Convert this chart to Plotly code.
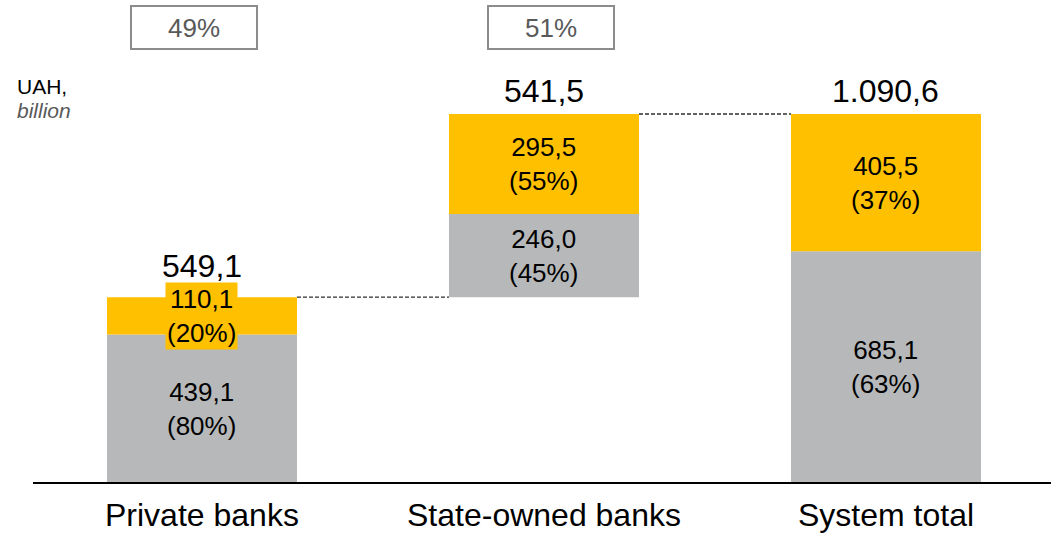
import plotly.graph_objects as go

# Banking system figures, UAH billion
categories = ["Private banks", "State-owned banks", "System total"]
lower_part = [439.1, 246.0, 685.1]      # grey segment
upper_part = [110.1, 295.5, 405.5]      # yellow segment
totals = [549.1, 541.5, 1090.6]          # stated totals
share_labels = ["49%", "51%"]            # boxed shares above the first two bars

GREY = "#B7B8BA"
YELLOW = "#FFC000"
FONT = "Liberation Sans, Arial, sans-serif"

W, H = 1051, 541


def fmt(v):
    s = f"{v:,.1f}"
    return s.replace(",", "X").replace(".", ",").replace("X", ".")


# State-owned bar floats on top of the private total (waterfall)
bases = [0.0, totals[0], 0.0]
upper_bases = [b + lo for b, lo in zip(bases, lower_part)]
bar_tops = [b + t for b, t in zip(bases, totals)]

# axis ranges chosen so the chart fills the canvas with no margins
x_range = [-0.5906, 2.4825]
y_range = [-171.4, 1427.5]
bar_w = 0.5556

fig = go.Figure()
x = list(range(len(categories)))
fig.add_trace(go.Bar(x=x, y=lower_part, base=bases, width=bar_w,
                     marker=dict(color=GREY, line=dict(width=0)), hoverinfo="skip"))
fig.add_trace(go.Bar(x=x, y=upper_part, base=upper_bases, width=bar_w,
                     marker=dict(color=YELLOW, line=dict(width=0)), hoverinfo="skip"))

annotations = []
shapes = []

for i, cat in enumerate(categories):
    tot = totals[i]
    lo, up = lower_part[i], upper_part[i]
    # segment labels
    annotations.append(dict(x=i, y=bases[i] + lo / 2, xref="x", yref="y",
                            text=f"{fmt(lo)}<br>({round(lo / tot * 100)}%)",
                            showarrow=False, font=dict(family=FONT, size=26, color="black")))
    annotations.append(dict(x=i, y=upper_bases[i] + up / 2, xref="x", yref="y",
                            text=f"{fmt(up)}<br>({round(up / tot * 100)}%)",
                            showarrow=False, bgcolor=YELLOW if i == 0 else None,
                            borderpad=1,
                            font=dict(family=FONT, size=26, color="black")))
    # total above the bar
    annotations.append(dict(x=i, y=bar_tops[i], xref="x", yref="y",
                            text=fmt(tot), showarrow=False, yanchor="middle",
                            yshift=31 if i == 0 else 23,
                            font=dict(family=FONT, size=32, color="black")))
    # category label below the axis
    annotations.append(dict(x=i, y=-94, xref="x", yref="y", text=cat, showarrow=False,
                            font=dict(family=FONT, size=32, color="black")))

# dashed connectors between bars
for i in range(len(categories) - 1):
    level = max(bar_tops[i], bar_tops[i + 1]) if i == 1 else bar_tops[i]
    shapes.append(dict(type="line", xref="x", yref="y",
                       x0=i + bar_w / 2, x1=i + 1 - bar_w / 2, y0=level, y1=level,
                       line=dict(color="#2F2F2F", width=1.3, dash="4px,2px")))

# baseline
shapes.append(dict(type="line", xref="paper", yref="y", x0=33 / W, x1=1, y0=0, y1=0,
                   line=dict(color="black", width=2)))

# boxed shares
box_centers = [194, 551]
for cx, lab in zip(box_centers, share_labels):
    shapes.append(dict(type="rect", xref="paper", yref="paper",
                       x0=(cx - 63) / W, x1=(cx + 63) / W,
                       y0=1 - 49 / H, y1=1 - 6 / H,
                       line=dict(color="#8C8C8C", width=2), fillcolor="white"))
    annotations.append(dict(x=cx / W, y=1 - 28 / H, xref="paper", yref="paper",
                            xanchor="center", yanchor="middle",
                            text=lab, showarrow=False,
                            font=dict(family=FONT, size=26, color="#595959")))

# unit note
annotations.append(dict(x=15 / W, y=1 - 86 / H, xref="paper", yref="paper",
                        xanchor="left", yanchor="middle",
                        text="UAH,", showarrow=False,
                        font=dict(family=FONT, size=21, color="black")))
annotations.append(dict(x=15 / W, y=1 - 110 / H, xref="paper", yref="paper",
                        xanchor="left", yanchor="middle",
                        text="<i>billion</i>", showarrow=False,
                        font=dict(family=FONT, size=21, color="#595959")))

fig.update_layout(
    width=W, height=H,
    margin=dict(l=0, r=0, t=0, b=0),
    paper_bgcolor="white", plot_bgcolor="white",
    barmode="overlay", showlegend=False,
    xaxis=dict(range=x_range, visible=False, fixedrange=True),
    yaxis=dict(range=y_range, visible=False, fixedrange=True),
    annotations=annotations, shapes=shapes,
    font=dict(family=FONT),
)

fig.write_html("out.html", config={"displayModeBar": False})
